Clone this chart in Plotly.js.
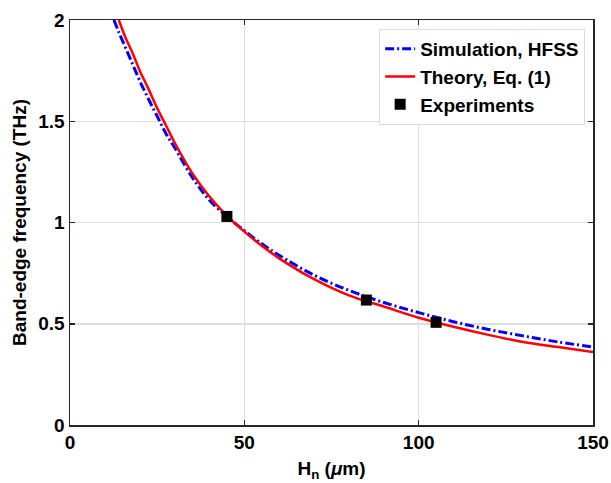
<!DOCTYPE html>
<html><head><meta charset="utf-8">
<script src="https://cdn.plot.ly/plotly-3.0.1.min.js"></script>
<style>html,body{margin:0;padding:0;background:#fff}#chart{width:611px;height:483px}</style>
</head><body><div id="chart"></div>
<script>
// Simulation (HFSS) curve
const simH = [12.6, 14, 16, 18, 20, 22.5, 25, 27.5, 30, 35, 40, 45, 50, 55, 60, 70, 80, 90, 100, 110, 120, 130, 140, 150];
const simF = [2.0, 1.94, 1.86, 1.78, 1.70, 1.61, 1.525, 1.44, 1.37, 1.225, 1.11, 1.03, 0.96, 0.895, 0.838, 0.74, 0.665, 0.605, 0.555, 0.51, 0.472, 0.44, 0.41, 0.385];
// Theory, Eq. (1)
const thH = [14, 16, 18, 20, 22.5, 25, 27.5, 30, 35, 40, 45, 50, 55, 60, 70, 80, 90, 100, 110, 120, 130, 140, 150];
const thF = [2.0, 1.91, 1.835, 1.75, 1.66, 1.565, 1.48, 1.395, 1.245, 1.128, 1.033, 0.955, 0.885, 0.823, 0.72, 0.64, 0.585, 0.53, 0.485, 0.445, 0.41, 0.385, 0.36];
// Experiments
const expH = [45, 85, 105];
const expF = [1.03, 0.617, 0.507];
const xTicks = [0, 50, 100, 150];
const yTicks = [0, 0.5, 1, 1.5, 2];

const fam = 'Liberation Sans, Arial, sans-serif';
const FS = 19;
const traces = [
  {x: simH, y: simF, mode: 'lines', name: '<b>Simulation, HFSS</b>',
   line: {color: '#0000ff', width: 3, dash: '9px,3px,2px,3px', shape: 'spline', smoothing: 1}},
  {x: thH, y: thF, mode: 'lines', name: '<b>Theory, Eq. (1)</b>',
   line: {color: '#ff0000', width: 2.5, shape: 'spline', smoothing: 1}},
  {x: expH, y: expF, mode: 'markers', name: '<b>Experiments</b>',
   marker: {symbol: 'square', color: '#000', size: 11}}
];
const axisCommon = {
  showline: true, linecolor: '#262626', linewidth: 1.5, mirror: 'ticks',
  ticks: 'inside', ticklen: 5, tickcolor: '#262626', tickwidth: 1.5,
  showgrid: true, gridcolor: '#dfdfdf', gridwidth: 1.5, zeroline: false,
  tickfont: {family: fam, size: FS, color: '#000'}
};
const layout = {
  width: 611, height: 483,
  margin: {l: 70, r: 18, t: 20, b: 58},
  paper_bgcolor: '#fff', plot_bgcolor: '#fff',
  showlegend: true,
  legend: {x: 0.985, y: 0.978, xanchor: 'right', yanchor: 'top',
    bgcolor: '#fff', bordercolor: '#dcdcdc', borderwidth: 1,
    font: {family: fam, size: FS, color: '#000'},
    tracegroupgap: 0, itemwidth: 30},
  xaxis: Object.assign({}, axisCommon, {range: [0, 150], tickvals: xTicks,
    ticktext: xTicks.map(v => '<b>' + v + '</b>'),
    title: {text: '<b>H<sub>n</sub> (<i>μ</i>m)</b>', font: {family: fam, size: FS, color: '#000'}, standoff: 9}}),
  yaxis: Object.assign({}, axisCommon, {range: [0, 2], tickvals: yTicks,
    ticktext: yTicks.map(v => '<b>' + v + '</b>'),
    title: {text: '<b>Band-edge frequency (THz)</b>', font: {family: fam, size: FS, color: '#000'}, standoff: 6}})
};
Plotly.newPlot('chart', traces, layout, {displayModeBar: false, staticPlot: true});
</script></body></html>
